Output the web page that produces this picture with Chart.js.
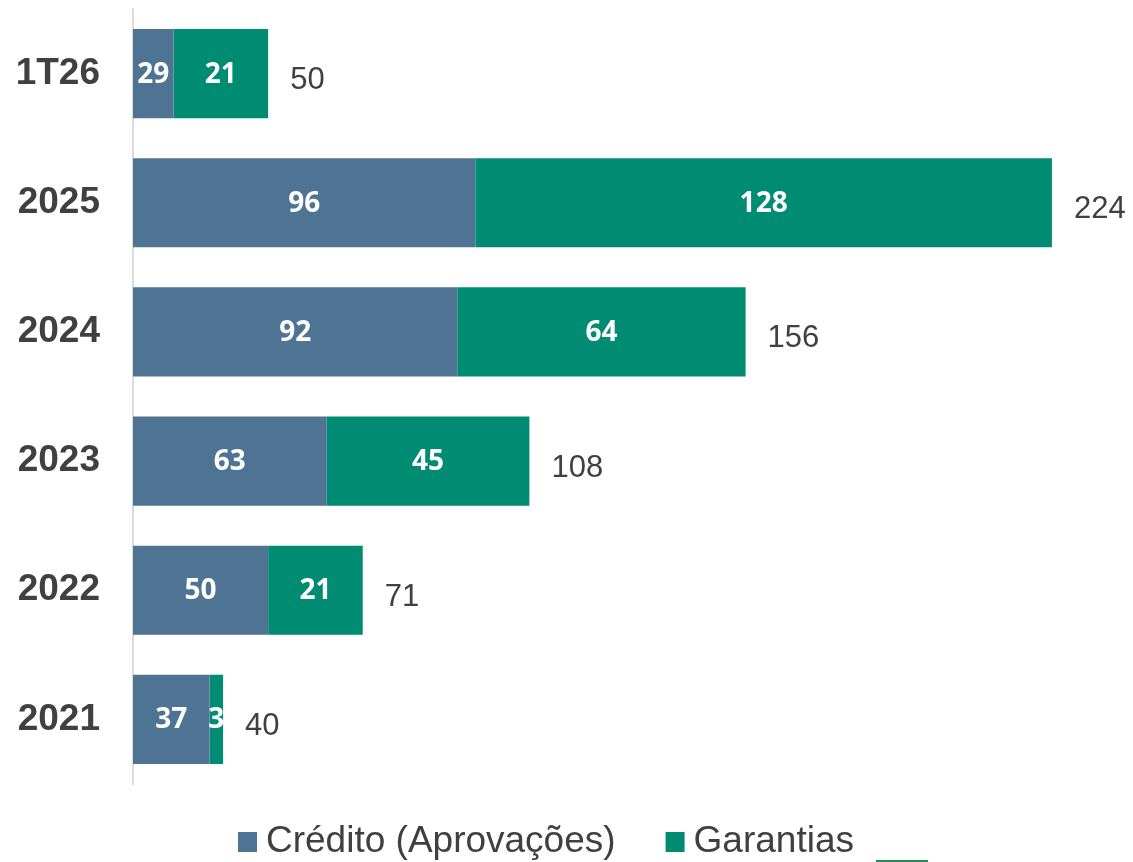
<!DOCTYPE html>
<html>
<head>
<meta charset="utf-8">
<script src="https://cdn.jsdelivr.net/npm/chart.js@4.4.1/dist/chart.umd.min.js"></script>
<style>
    html, body { margin: 0; padding: 0; background: #fff; }
    #wrap { width: 1133px; height: 862px; }
</style>
</head>
<body>
<div id="wrap"><canvas id="chart" width="1133" height="862"></canvas></div>
<script>
const categories = ['1T26', '2025', '2024', '2023', '2022', '2021'];
const credito = [29, 96, 92, 63, 50, 37];
const garantias = [21, 128, 64, 45, 21, 3];
const totals = [50, 224, 156, 108, 71, 40];

const BLUE = '#4e7393';
const GREEN = '#008c72';
const TEXT = '#404040';
const FONT = '"Liberation Sans", Arial, sans-serif';

// values inside each segment + total to the right of the stack
const barLabels = {
    id: 'barLabels',
    afterDatasetsDraw(chart) {
        const ctx = chart.ctx;
        const left = chart.chartArea.left;
        ctx.save();
        ctx.textBaseline = 'middle';

        ctx.fillStyle = '#fff';
        ctx.font = 'bold 28px "Open Sans", sans-serif';
        ctx.textAlign = 'center';
        chart.data.datasets.forEach((ds, di) => {
            chart.getDatasetMeta(di).data.forEach((bar, i) => {
                const start = Math.max(bar.base, left);
                ctx.fillText(String(ds.data[i]), (bar.x + start) / 2, bar.y + 1);
            });
        });

        const last = chart.getDatasetMeta(chart.data.datasets.length - 1).data;
        ctx.fillStyle = TEXT;
        ctx.font = '31px ' + FONT;
        ctx.textAlign = 'left';
        last.forEach((bar, i) => {
            ctx.fillText(String(totals[i]), bar.x + 22, bar.y + 7);
        });
        ctx.restore();
    }
};

// legend row under the plot
const bottomLegend = {
    id: 'bottomLegend',
    afterDraw(chart) {
        const ctx = chart.ctx;
        const cy = 842;
        let x = 238;
        ctx.save();
        ctx.font = '37px ' + FONT;
        ctx.textBaseline = 'middle';
        ctx.textAlign = 'left';
        chart.data.datasets.forEach((ds) => {
            ctx.fillStyle = ds.backgroundColor;
            ctx.fillRect(x, cy - 10, 19, 20);
            ctx.fillStyle = TEXT;
            ctx.fillText(ds.label, x + 28, cy);
            x += 28 + ctx.measureText(ds.label).width + 50;
        });
        // marker of the unlabeled total series, cut by the bottom edge
        ctx.strokeStyle = '#2a8a5a';
        ctx.lineWidth = 2;
        ctx.beginPath();
        ctx.moveTo(876, 861);
        ctx.lineTo(928, 861);
        ctx.stroke();
        ctx.restore();
    }
};

new Chart(document.getElementById('chart').getContext('2d'), {
    type: 'bar',
    data: {
        labels: categories,
        datasets: [
            { label: 'Crédito (Aprovações)', data: credito, backgroundColor: BLUE, borderWidth: 0 },
            { label: 'Garantias', data: garantias, backgroundColor: GREEN, borderWidth: 0 },
        ],
    },
    options: {
        indexAxis: 'y',
        responsive: false,
        animation: false,
        layout: { padding: { top: 9, right: 0, left: 0, bottom: 78 } },
        datasets: { bar: { categoryPercentage: 1, barPercentage: 0.69 } },
        scales: {
            x: {
                stacked: true,
                display: false,
                min: 20,
                max: 242,
            },
            y: {
                stacked: true,
                grid: { display: false, drawTicks: false },
                border: { display: true, color: '#dcdcdc', width: 2 },
                ticks: {
                    color: TEXT,
                    padding: 33,
                    font: { family: FONT, size: 37, weight: 'bold' },
                },
                afterFit(scale) {
                    scale.width = 133;
                    scale.paddingTop = 0;
                    scale.paddingBottom = 0;
                },
            },
        },
        plugins: {
            legend: { display: false },
            tooltip: { enabled: false },
        },
    },
    plugins: [barLabels, bottomLegend],
});
</script>
</body>
</html>
